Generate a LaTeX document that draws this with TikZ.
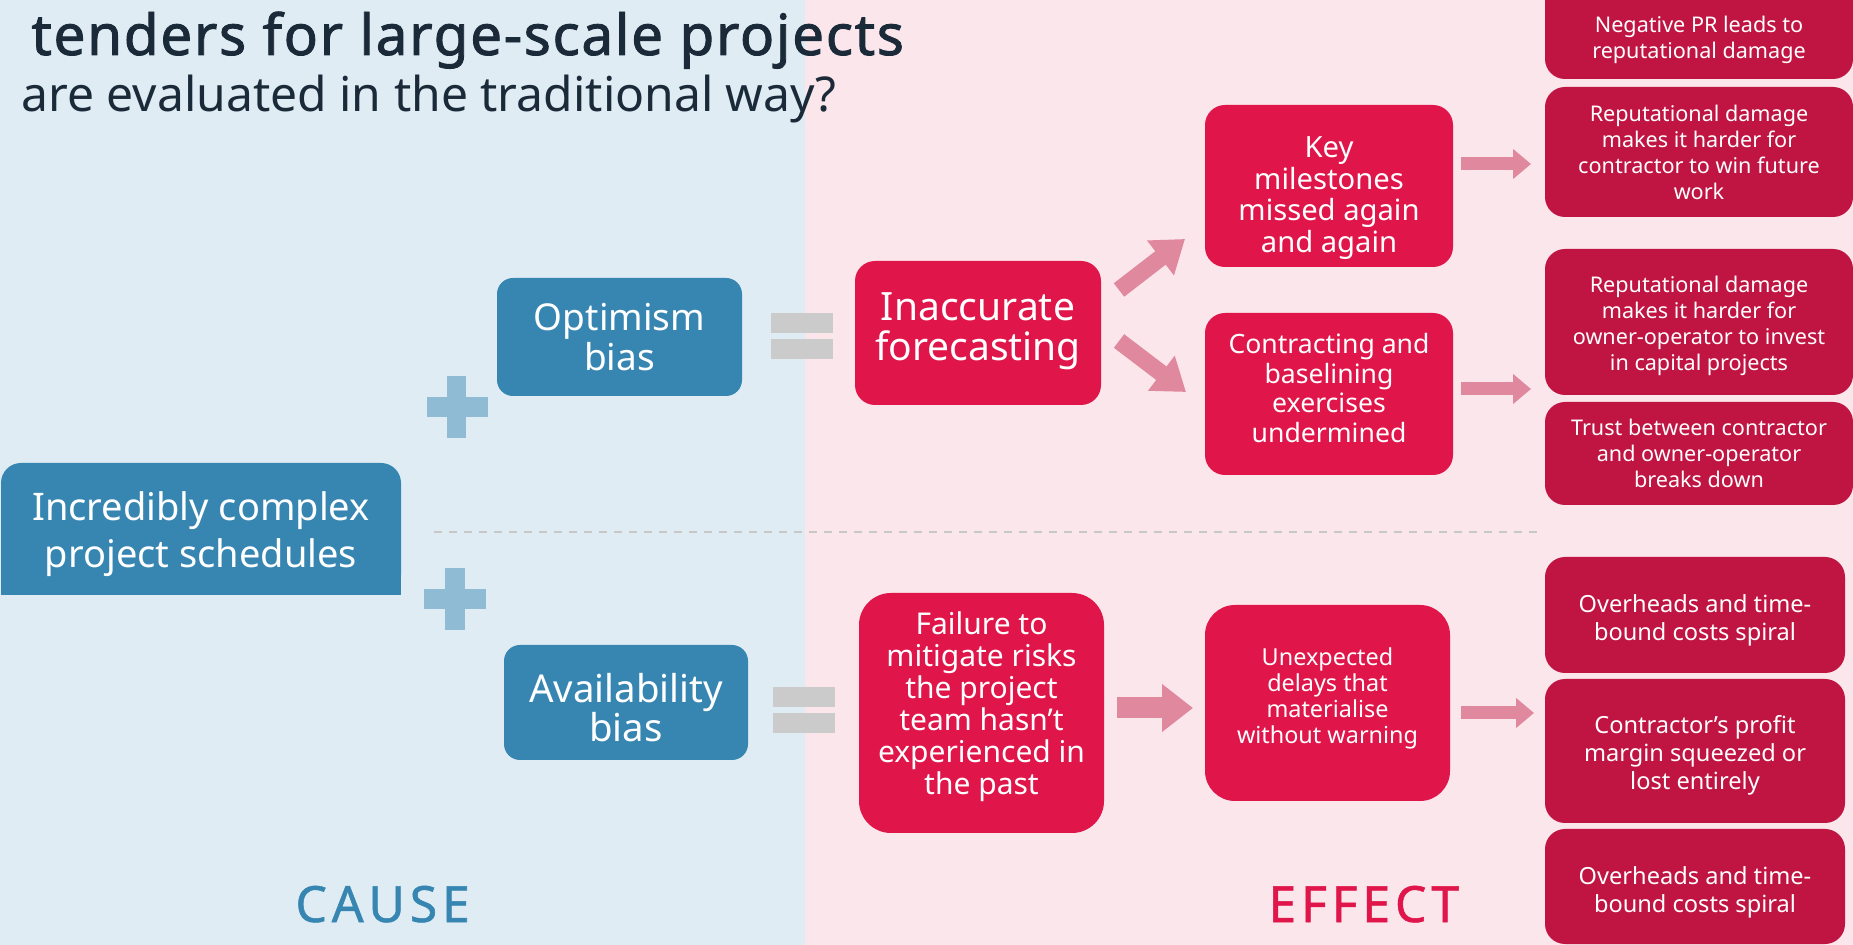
\documentclass[tikz,border=0pt]{standalone}
\usepackage{fontspec}
\setmainfont{Noto Sans}
\newfontfamily\spacedfont[LetterSpace=9.5,FakeBold=1]{Noto Sans}
\newfontfamily\titlefont[FakeBold=1.6,LetterSpace=3]{Noto Sans}
\usetikzlibrary{arrows.meta}
\definecolor{bgblue}{HTML}{DFECF4}
\definecolor{bgpink}{HTML}{FBE6EB}
\definecolor{cblue}{HTML}{3786B2}
\definecolor{cred}{HTML}{E0154A}
\definecolor{cdark}{HTML}{C01442}
\definecolor{cplus}{HTML}{8FBBD4}
\definecolor{cgray}{HTML}{CBCBCB}
\definecolor{carrow}{HTML}{DF889E}
\definecolor{ctitle}{HTML}{1B2A38}
\definecolor{cdash}{HTML}{C8C8C8}
\newcommand{\myfs}[2]{\fontsize{#1}{#2}\selectfont}
\begin{document}
\begin{tikzpicture}[x=0.5pt,y=-0.5pt,
  box/.style={inner sep=0pt},
  bluebox/.style={box, fill=cblue},
  redbox/.style={box, fill=cred},
  darkbox/.style={box, fill=cdark, rounded corners=10pt},
  boxtext/.style={align=center, text=white, inner sep=0pt},
  harrow/.style={draw=carrow, line width=6.5pt, -{Triangle[length=9pt,width=14.5pt]}},
  darrow/.style={draw=carrow, line width=8.5pt, -{Triangle[length=15.5pt,width=21pt]}},
  barrow/.style={draw=carrow, line width=10.5pt, -{Triangle[length=15.5pt,width=23pt]}},
  sign/.style={fill=cgray},
  plussign/.style={fill=cplus},
  label/.style={anchor=base west, inner sep=0pt}
]
\useasboundingbox (0,0) rectangle (1853,945);
% backgrounds
\fill[bgblue] (0,0) rectangle (805,945);
\fill[bgpink] (805,0) rectangle (1853,945);

% title
\node[label, text=ctitle, font=\titlefont\myfs{28.3}{30}] (title1) at (31,55) {tenders for large-scale projects};
\node[label, text=ctitle, font=\myfs{24}{26}] (title2) at (21,112) {are evaluated in the traditional way?};

% dashed separator
\draw[cdash, line width=1pt, dash pattern=on 4pt off 3.5pt] (434,532) -- (1540,532);

% cause boxes
\fill[cblue] (1,540) rectangle (401,595);
\node[bluebox, rounded corners=10pt, minimum width=200pt, minimum height=66pt] (complex) at (201,529) {};
\node[boxtext, font=\myfs{19}{23.5}] (complext) at ([yshift=-2.5pt]complex.center) {Incredibly complex\\project schedules};
\node[bluebox, rounded corners=8pt, minimum width=122.5pt, minimum height=59pt] (optim) at (619.5,337) {};
\node[boxtext, font=\myfs{18.5}{20}] (optimt) at (optim.center) {Optimism\\bias};
\node[bluebox, rounded corners=8pt, minimum width=122pt, minimum height=57.5pt] (avail) at (626,702.5) {};
\node[boxtext, font=\myfs{19.2}{19.5}] (availt) at ([yshift=-2.5pt]avail.center) {Availability\\bias};

% plus signs
\fill[plussign] (447,376) rectangle (466,438);
\fill[plussign] (427,397) rectangle (488,417);
\fill[plussign] (445,568) rectangle (465,630);
\fill[plussign] (424,589) rectangle (486,609);

% equals signs
\fill[sign] (771,313) rectangle (833,333);
\fill[sign] (771,339) rectangle (833,359);
\fill[sign] (773,687) rectangle (835,707);
\fill[sign] (773,713) rectangle (835,733);

% effect boxes
\node[redbox, rounded corners=10pt, minimum width=123pt, minimum height=72pt] (inacc) at (978,333) {};
\node[boxtext, font=\myfs{19.5}{20}] (inacct) at ([yshift=1pt]inacc.center) {Inaccurate\\forecasting};
\node[redbox, rounded corners=16pt, minimum width=122.5pt, minimum height=120pt] (failure) at (981.5,713) {};
\node[boxtext, font=\myfs{15}{16}] (failuret) at ([yshift=3pt]failure.center) {Failure to\\mitigate risks\\the project\\team hasn’t\\experienced in\\the past};
\node[redbox, rounded corners=10pt, minimum width=124pt, minimum height=81pt] (key) at (1329,186) {};
\node[boxtext, font=\myfs{14.6}{15.8}] (keyt) at ([yshift=-6pt]key.center) {Key\\milestones\\missed again\\and again};
\node[redbox, rounded corners=10pt, minimum width=124pt, minimum height=81pt] (contract) at (1329,394) {};
\node[boxtext, font=\myfs{13.3}{14.7}] (contractt) at ([yshift=3pt]contract.center) {Contracting and\\baselining\\exercises\\undermined};
\node[redbox, rounded corners=15pt, minimum width=122.5pt, minimum height=98pt] (unexp) at (1327.5,703) {};
\node[boxtext, font=\myfs{11.7}{13}] (unexpt) at ([yshift=2.5pt]unexp.center) {Unexpected\\delays that\\materialise\\without warning};

% right-hand outcome boxes
\fill[cdark, rounded corners=10pt] (1545,-30) rectangle (1853,79);
\node[boxtext, font=\myfs{10.8}{13}] (r1) at (1699,40) {Negative PR leads to\\reputational damage};
\node[darkbox, minimum width=154pt, minimum height=65pt] (r2) at (1699,152) {};
\node[boxtext, font=\myfs{10.8}{13}] (r2t) at (r2.center) {Reputational damage\\makes it harder for\\contractor to win future\\work};
\node[darkbox, minimum width=154pt, minimum height=73pt] (r3) at (1699,322) {};
\node[boxtext, font=\myfs{10.8}{13}] (r3t) at ([yshift=-1.8pt]r3.center) {Reputational damage\\makes it harder for\\owner-operator to invest\\in capital projects};
\node[darkbox, minimum width=154pt, minimum height=51.5pt] (r4) at (1699,453.5) {};
\node[boxtext, font=\myfs{10.8}{13}] (r4t) at (r4.center) {Trust between contractor\\and owner-operator\\breaks down};
\node[darkbox, minimum width=150pt, minimum height=58pt] (r5) at (1695,615) {};
\node[boxtext, font=\myfs{11.8}{14}] (r5t) at ([yshift=-2.5pt]r5.center) {Overheads and time-\\bound costs spiral};
\node[darkbox, minimum width=150pt, minimum height=72pt] (r6) at (1695,751) {};
\node[boxtext, font=\myfs{11.8}{14}] (r6t) at ([yshift=-2pt]r6.center) {Contractor’s profit\\margin squeezed or\\lost entirely};
\node[darkbox, minimum width=150pt, minimum height=57.5pt] (r7) at (1695,886.5) {};
\node[boxtext, font=\myfs{11.8}{14}] (r7t) at ([yshift=-3pt]r7.center) {Overheads and time-\\bound costs spiral};

% arrows
\coordinate (d1s) at (1119,290);
\coordinate (d1e) at (1185,239);
\coordinate (d2s) at (1119,341);
\coordinate (d2e) at (1186,392);
\draw[darrow] (d1s) -- (d1e);
\draw[darrow] (d2s) -- (d2e);
\coordinate (h1s) at (1461,164);
\coordinate (h1e) at (1531,164);
\coordinate (h2s) at (1461,389);
\coordinate (h2e) at (1531,389);
\coordinate (h3s) at (1461,713);
\coordinate (h3e) at (1534,713);
\coordinate (bs) at (1117,708);
\coordinate (be) at (1193,708);
\draw[harrow] (h1s) -- (h1e);
\draw[harrow] (h2s) -- (h2e);
\draw[harrow] (h3s) -- (h3e);
\draw[barrow] (bs) -- (be);

% cause / effect labels
\node[label, text=cblue, font=\spacedfont\myfs{25}{28}] (cause) at (295,922) {CAUSE};
\node[label, text=cred, font=\spacedfont\myfs{25}{28}] (effect) at (1268,922) {EFFECT};
\end{tikzpicture}
\end{document}
